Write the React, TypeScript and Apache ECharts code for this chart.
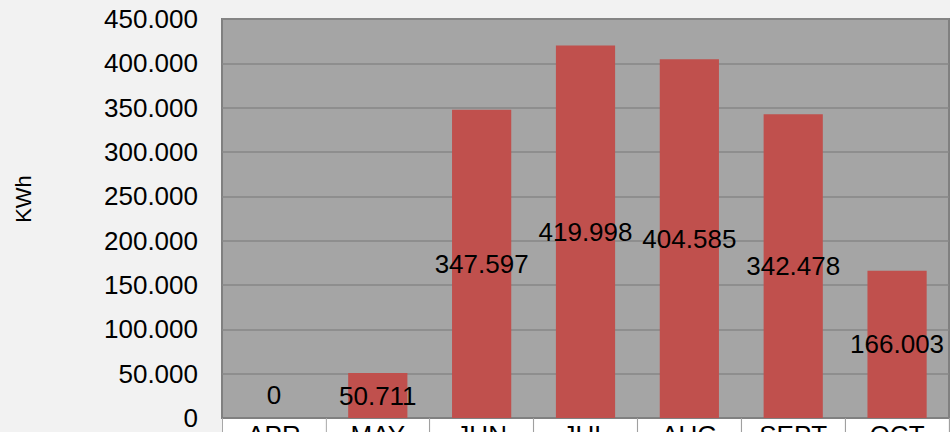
import React, { useEffect, useRef } from "react";
import * as echarts from "echarts";

const categories = ["APR", "MAY", "JUN", "JUL", "AUG", "SEPT", "OCT"];
const values = [0, 50711, 347597, 419998, 404585, 342478, 166003];
const yMin = 0;
const yMax = 450000;
const yStep = 50000;
const yTitle = "KWh";

const fmt = (v: number) => {
  if (v === 0) return "0";
  const s = Math.round(v).toString();
  return s.replace(/\B(?=(\d{3})+(?!\d))/g, ".");
};

export default function App() {
  const ref = useRef<HTMLDivElement>(null);
  useEffect(() => {
    if (!ref.current) return;
    const chart = echarts.init(ref.current, undefined, { renderer: "svg" });
    const font = "'Liberation Sans', Arial, sans-serif";
    chart.setOption({
      animation: false,
      backgroundColor: "#f2f2f2",
      textStyle: { fontFamily: font },
      grid: {
        left: 222,
        top: 19,
        right: 1,
        bottom: 14,
        containLabel: false,
        outerBoundsMode: "none",
        show: true,
        backgroundColor: "#a5a5a5",
        borderColor: "#808080",
        borderWidth: 2,
      },
      graphic: [
        {
          type: "text",
          x: 23,
          y: 199,
          rotation: Math.PI / 2,
          style: {
            text: yTitle,
            font: `22px ${font}`,
            fill: "#000",
            align: "center",
            verticalAlign: "middle",
          },
        },
      ],
      xAxis: {
        type: "category",
        data: categories,
        boundaryGap: true,
        axisLine: { show: true, lineStyle: { color: "#808080", width: 2 } },
        axisTick: { show: true, length: 16, lineStyle: { color: "#a0a0a0", width: 1 } },
        axisLabel: {
          interval: 0,
          margin: 1,
          color: "#000",
          fontSize: 26,
          fontFamily: font,
          backgroundColor: "#ffffff",
          width: 102,
          height: 30,
          lineHeight: 30,
          align: "center",
          verticalAlign: "top",
          padding: [1, 0, 0, 0],
        },
      },
      yAxis: {
        type: "value",
        min: yMin,
        max: yMax,
        interval: yStep,
        axisLine: { show: false },
        axisTick: { show: false },
        axisLabel: {
          margin: 24,
          color: "#000",
          fontSize: 26,
          fontFamily: font,
          formatter: (v: number) => fmt(v),
        },
        splitLine: { show: true, lineStyle: { color: "#878787", width: 1.5 } },
      },
      series: [
        {
          type: "bar",
          data: values.map((v) =>
            v === 0
              ? { value: v, label: { position: "insideBottom", distance: 10 } }
              : { value: v }
          ),
          barWidth: "57%",
          itemStyle: { color: "#c0504d" },
          label: {
            show: true,
            position: "inside",
            color: "#000",
            fontSize: 26,
            fontFamily: font,
            formatter: (p: any) => fmt(p.value),
          },
        },
      ],
    });
    return () => chart.dispose();
  }, []);
  return (
    <div
      ref={ref}
      style={{ position: "fixed", left: 0, top: 0, width: 950, height: 432 }}
    />
  );
}
